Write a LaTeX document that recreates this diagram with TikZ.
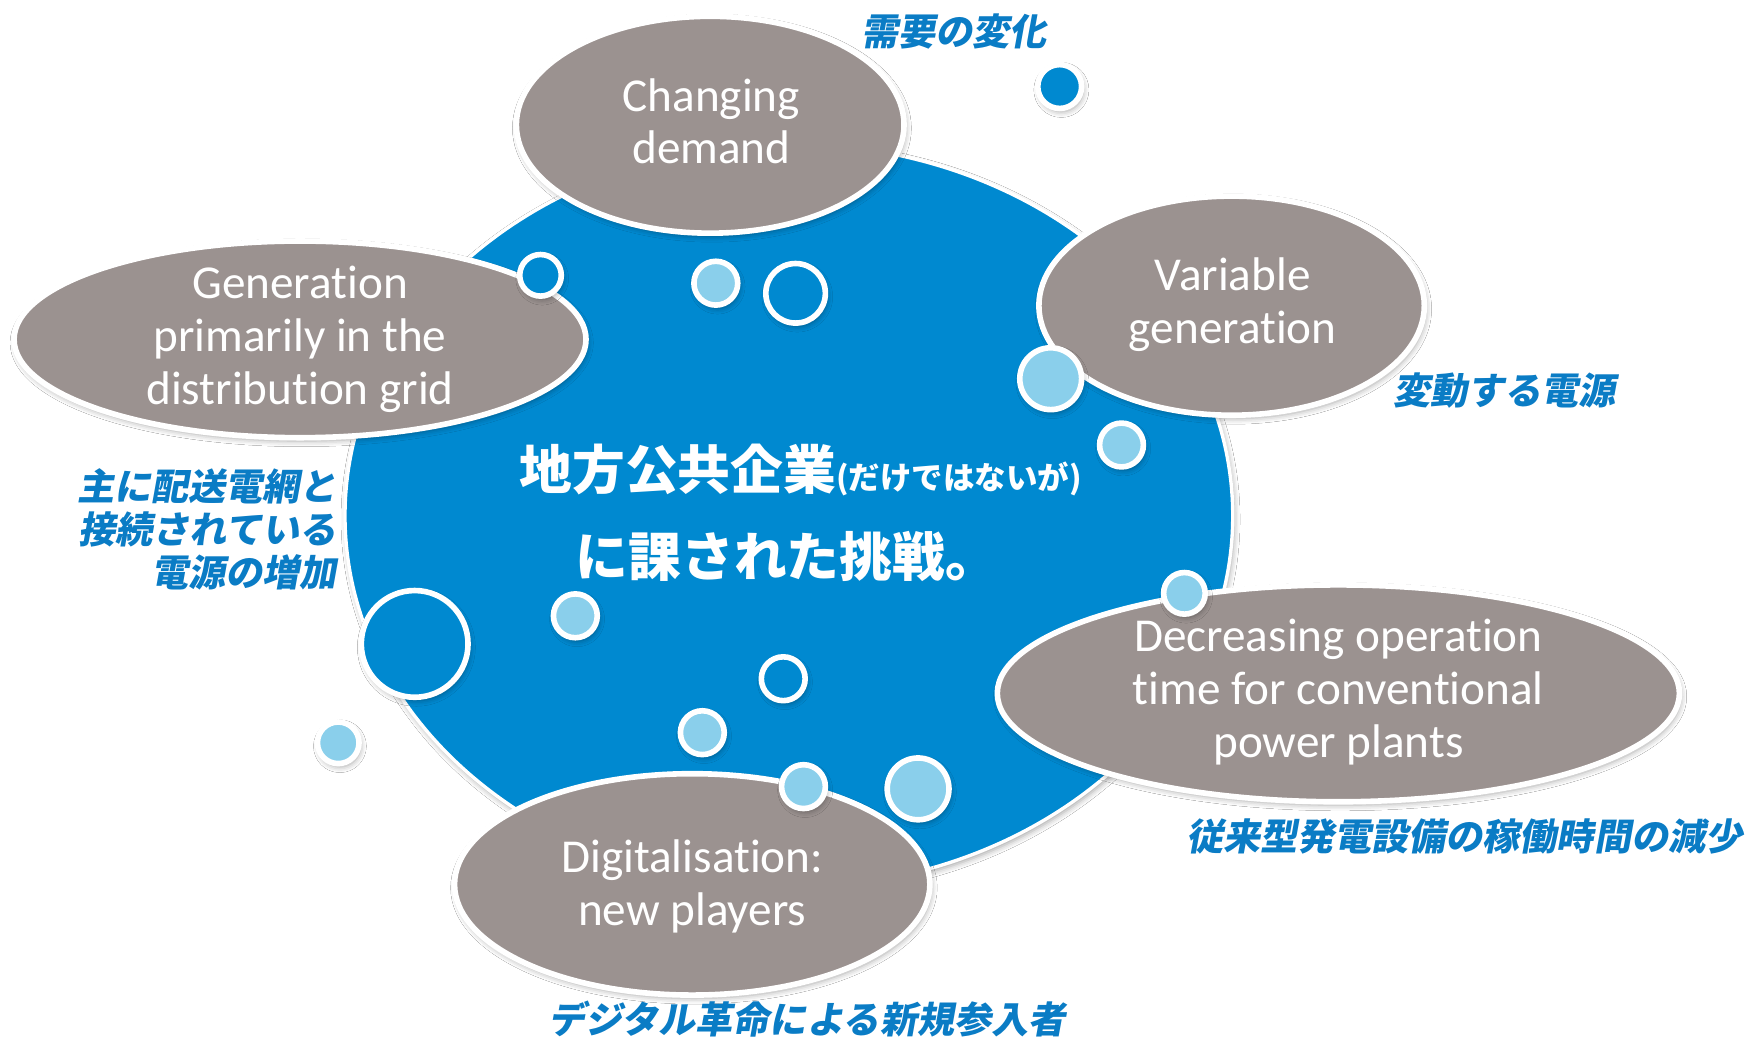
\documentclass[tikz,border=0pt]{standalone}
\usepackage{fontspec}
\setmainfont{Carlito}[Ligatures={NoCommon,NoContextual}]
\newfontfamily\jpit[FakeSlant=0.18]{Noto Sans CJK JP}
\newfontfamily\jp{Noto Sans CJK JP}
\usetikzlibrary{shapes.geometric,shadows.blur}
\definecolor{cblue}{HTML}{0089D0}
\definecolor{clight}{HTML}{8ACFEB}
\definecolor{cgray}{HTML}{9B9290}
\definecolor{clabel}{HTML}{0A7CC5}
\begin{document}
\begin{tikzpicture}[x=1pt,y=-1pt,
  sh/.style={blur shadow={shadow xshift=1.5pt, shadow yshift=-3pt, shadow blur radius=5pt, shadow opacity=35}},
  bubble/.style={ellipse, fill=cgray, draw=white, line width=5pt, inner sep=-30pt, sh},
  dot/.style={circle, draw=white, line width=5pt, inner sep=0pt, sh},
  darkdot/.style={dot, fill=cblue},
  lightdot/.style={dot, fill=clight},
  etext/.style={text=white, align=center, font=\fontsize{42}{47}\selectfont},
  jlabel/.style={text=clabel, font=\jpit\bfseries\fontsize{33}{38.5}\selectfont, inner sep=0pt},
  jcenter/.style={text=white, font=\jp\bfseries\fontsize{47}{56}\selectfont, inner sep=0pt, anchor=west}
]
\path[use as bounding box, fill=white] (0,0) rectangle (1568,924);

% central blue ellipse
\node[ellipse, fill=cblue, draw=white, line width=3pt, minimum width=790pt, minimum height=662pt, inner sep=-50pt, sh] (core) at (702,459) {};

% grey bubbles
\node[bubble, minimum width=345pt, minimum height=193pt] (cd) at (632,111) {};
\node[bubble, minimum width=509pt, minimum height=175pt] (gp) at (267,302) {};
\node[bubble, minimum width=343pt, minimum height=195pt] (vg) at (1096,272) {};
\node[bubble, minimum width=607pt, minimum height=193pt] (dop) at (1191,617) {};
\node[bubble, minimum width=423pt, minimum height=197pt] (dig) at (616,787) {};

% small circles
\node[darkdot, minimum size=39pt] (c1) at (943,77) {};
\node[darkdot, minimum size=37pt] (c2) at (481,245) {};
\node[lightdot, minimum size=39pt] (c3) at (637,252) {};
\node[darkdot, minimum size=53pt] (c4) at (708,261) {};
\node[lightdot, minimum size=55pt] (c5) at (935,337) {};
\node[lightdot, minimum size=39pt] (c6) at (998,396) {};
\node[lightdot, minimum size=37pt] (c7) at (1054,528) {};
\node[darkdot, minimum size=95pt] (c8) at (369,573) {};
\node[lightdot, minimum size=39pt] (c9) at (512,548) {};
\node[darkdot, minimum size=39pt] (c10) at (697,604) {};
\node[lightdot, minimum size=39pt] (c11) at (625,652) {};
\node[lightdot, minimum size=37pt] (c12) at (301,661) {};
\node[lightdot, minimum size=39pt] (c13) at (715,700) {};
\node[lightdot, minimum size=55pt] (c14) at (817,702) {};

% English texts
\node[etext] (cdt) at (633,108) {Changing\\demand};
\node[etext] (gpt) at (267,302) {Generation\\primarily in the\\distribution grid};
\node[etext] (vgt) at (1097,271) {Variable\\generation};
\node[etext] (dopt) at (1191,616) {Decreasing operation\\time for conventional\\power plants};
\node[etext] (digt) at (616,789) {Digitalisation:\\new players};

% central Japanese text
\node[jcenter] (m1) at (462,418) {地方公共企業{\fontsize{28}{30}\selectfont (だけではないが)}};
\node[jcenter] (m2) at (512,495) {に課された挑戦。};

% Japanese labels
\node[jlabel] (l1) at (849,28) {需要の変化};
\node[jlabel] (l2) at (1339,348) {変動する電源};
\node[jlabel, align=right, anchor=east] (l3) at (300,471) {主に配送電網と\\接続されている\\電源の増加};
\node[jlabel] (l4) at (1303,744) {従来型発電設備の稼働時間の減少};
\node[jlabel] (l5) at (718,907) {デジタル革命による新規参入者};
\end{tikzpicture}
\end{document}
